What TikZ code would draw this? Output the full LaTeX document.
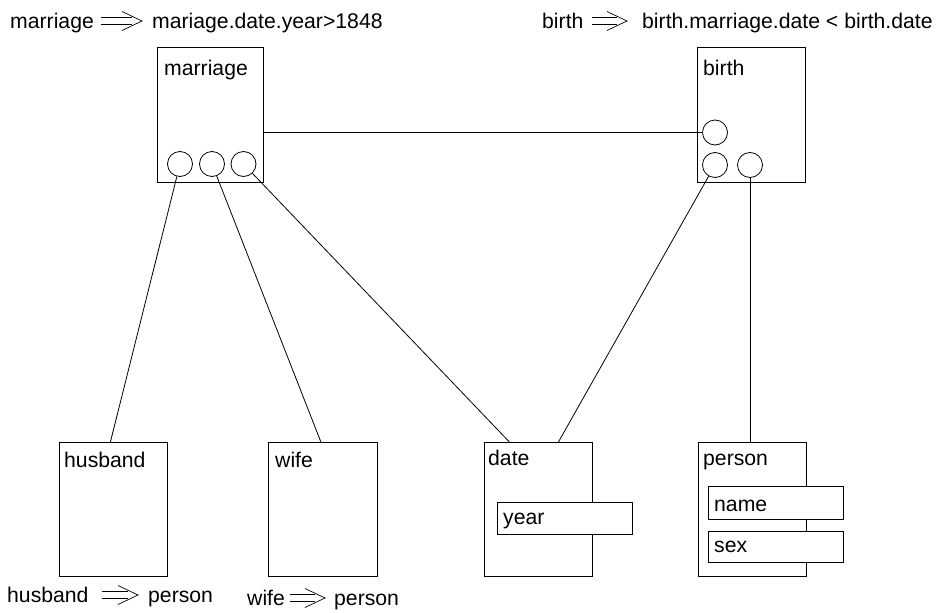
\documentclass[tikz,border=0pt]{standalone}
\usepackage{fontspec}
\setmainfont{Liberation Sans}
\usetikzlibrary{calc}
\tikzset{
  box/.style={draw, line width=0.8pt, rectangle, anchor=north west, inner sep=0pt, fill=white},
  port/.style={draw, line width=0.8pt, circle, minimum size=25pt, inner sep=0pt},
  lbl/.style={anchor=base west, inner sep=0pt, font=\fontsize{21.2}{25}\selectfont},
  conn/.style={line width=0.8pt},
  impl/.style={line width=0.7pt},
}
\begin{document}
\begin{tikzpicture}[x=1pt,y=-1pt]
\useasboundingbox (0,0) rectangle (940,613);
% boxes
\node[box, minimum width=106pt, minimum height=135pt] (marriage) at (157,47) {};
\node[box, minimum width=108pt, minimum height=135pt] (birth) at (697,47) {};
\node[box, minimum width=108pt, minimum height=134pt] (husband) at (59,442) {};
\node[box, minimum width=109pt, minimum height=134pt] (wife) at (268,442) {};
\node[box, minimum width=108pt, minimum height=134pt] (date) at (484,442) {};
\node[box, minimum width=108pt, minimum height=134pt] (person) at (698,442) {};
\node[box, minimum width=135pt, minimum height=32pt] (year) at (497,502) {};
\node[box, minimum width=135pt, minimum height=33pt] (name) at (708,486) {};
\node[box, minimum width=135pt, minimum height=31pt] (sex) at (708,531) {};
% box labels
\node[lbl] (tmarriage) at (164,75) {marriage};
\node[lbl] (tbirth) at (703,75) {birth};
\node[lbl] (thusband) at (64,467) {husband};
\node[lbl] (twife) at (275,467) {wife};
\node[lbl] (tdate) at (488,465) {date};
\node[lbl] (tperson) at (703,465) {person};
\node[lbl] (tyear) at (503,524) {year};
\node[lbl] (tname) at (714,511) {name};
\node[lbl] (tsex) at (714,552) {sex};
% ports
\node[port] (m1) at (180,164) {};
\node[port] (m2) at (212,164) {};
\node[port] (m3) at (243.5,164) {};
\node[port] (b1) at (715,132.5) {};
\node[port] (b2) at (715,165) {};
\node[port] (b3) at (750,165) {};
% connectors
\coordinate (husbtop) at ([xshift=-3pt]husband.north);
\coordinate (wifetop) at ([xshift=-2pt]wife.north);
\coordinate (datetopl) at ([xshift=-29pt]date.north);
\coordinate (datetopr) at ([xshift=20pt]date.north);
\draw[conn] (b1.west -| marriage.east) -- (b1.west);
\draw[conn] (m1) -- (husbtop);
\draw[conn] (m2) -- (wifetop);
\draw[conn] (m3) -- (datetopl);
\draw[conn] (b2) -- (datetopr);
\draw[conn] (b3) -- (b3 |- person.north);
% rule texts
\node[lbl] (r1a) at (10,28) {marriage};
\node[lbl] (r1b) at (152,28) {mariage.date.year>1848};
\node[lbl] (r2a) at (542,28) {birth};
\node[lbl] (r2b) at (642,28) {birth.marriage.date < birth.date};
\node[lbl] (r3a) at (7,602) {husband};
\node[lbl] (r3b) at (148,602) {person};
\node[lbl] (r4a) at (247,605) {wife};
\node[lbl] (r4b) at (334,605) {person};
% implication arrows
\foreach \a/\b/\ga/\gb in {r1a/r1b/7/10, r2a/r2b/8/15, r3a/r3b/13/10, r4a/r4b/5/9}{
  \coordinate (ia) at ($(\a.base east)+(\ga,-7)$);
  \coordinate (ib) at ($(\b.base west)+(-\gb,-7)$);
  \draw[impl] ($(ia)+(0,-3.3)$) -- ($(ib)+(-10,-3.3)$);
  \draw[impl] ($(ia)+(0,3.3)$) -- ($(ib)+(-10,3.3)$);
  \draw[impl] ($(ib)+(-20,-9.5)$) -- (ib) -- ($(ib)+(-20,9.5)$);
}
\end{tikzpicture}
\end{document}
